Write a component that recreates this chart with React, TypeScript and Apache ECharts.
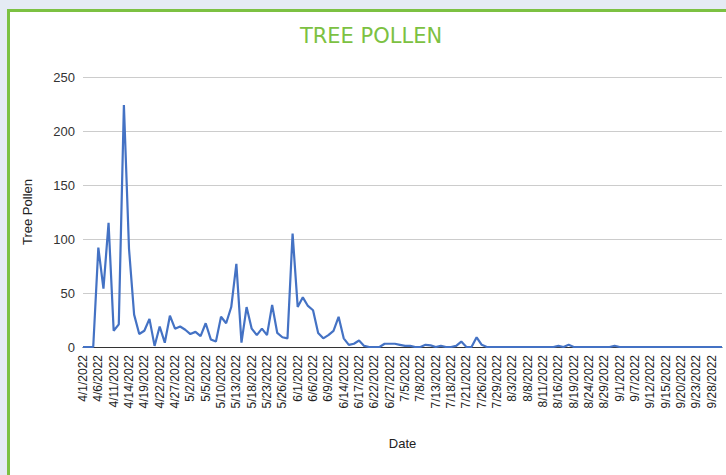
import React, { useEffect, useRef } from "react";
import * as echarts from "echarts";

const dates: string[] = [
  "4/1/2022", "4/4/2022", "4/5/2022", "4/6/2022", "4/7/2022", "4/8/2022", "4/11/2022", "4/12/2022", "4/13/2022", "4/14/2022",
  "4/15/2022", "4/18/2022", "4/19/2022", "4/20/2022", "4/21/2022", "4/22/2022", "4/25/2022", "4/26/2022", "4/27/2022", "4/28/2022",
  "4/29/2022", "5/2/2022", "5/3/2022", "5/4/2022", "5/5/2022", "5/6/2022", "5/9/2022", "5/10/2022", "5/11/2022", "5/12/2022",
  "5/13/2022", "5/16/2022", "5/17/2022", "5/18/2022", "5/19/2022", "5/20/2022", "5/23/2022", "5/24/2022", "5/25/2022", "5/26/2022",
  "5/27/2022", "5/31/2022", "6/1/2022", "6/2/2022", "6/3/2022", "6/6/2022", "6/7/2022", "6/8/2022", "6/9/2022", "6/10/2022",
  "6/13/2022", "6/14/2022", "6/15/2022", "6/16/2022", "6/17/2022", "6/20/2022", "6/21/2022", "6/22/2022", "6/23/2022", "6/24/2022",
  "6/27/2022", "6/28/2022", "6/29/2022", "7/5/2022", "7/6/2022", "7/7/2022", "7/8/2022", "7/11/2022", "7/12/2022", "7/13/2022",
  "7/14/2022", "7/15/2022", "7/18/2022", "7/19/2022", "7/20/2022", "7/21/2022", "7/22/2022", "7/25/2022", "7/26/2022", "7/27/2022",
  "7/28/2022", "7/29/2022", "8/1/2022", "8/2/2022", "8/3/2022", "8/4/2022", "8/5/2022", "8/8/2022", "8/9/2022", "8/10/2022",
  "8/11/2022", "8/12/2022", "8/15/2022", "8/16/2022", "8/17/2022", "8/18/2022", "8/19/2022", "8/22/2022", "8/23/2022", "8/24/2022",
  "8/25/2022", "8/26/2022", "8/29/2022", "8/30/2022", "8/31/2022", "9/1/2022", "9/2/2022", "9/6/2022", "9/7/2022", "9/8/2022",
  "9/9/2022", "9/12/2022", "9/13/2022", "9/14/2022", "9/15/2022", "9/16/2022", "9/19/2022", "9/20/2022", "9/21/2022", "9/22/2022",
  "9/23/2022", "9/26/2022", "9/27/2022", "9/28/2022", "9/29/2022", "9/30/2022",
];

const treePollen: number[] = [
  0, 0, 0, 92, 54, 115, 15, 21, 224, 91,
  30, 12, 15, 26, 1, 19, 4, 29, 17, 19,
  16, 12, 14, 10, 22, 7, 5, 28, 22, 37,
  77, 4, 37, 17, 11, 17, 11, 39, 13, 9,
  8, 105, 37, 46, 38, 34, 13, 8, 11, 15,
  28, 8, 2, 3, 6, 1, 0, 0, 0, 3,
  3, 3, 2, 1, 1, 0, 0, 2, 1.5, 0,
  1, 0, 0, 1, 5, 0, 0, 9, 2, 0,
  0, 0, 0, 0, 0, 0, 0, 0, 0, 0,
  0, 0, 0, 1, 0, 2, 0, 0, 0, 0,
  0, 0, 0, 0, 1, 0, 0, 0, 0, 0,
  0, 0, 0, 0, 0, 0, 0, 0, 0, 0,
  0, 0, 0, 0, 0, 0,
];

const yTicks = { min: 0, max: 250, interval: 50 };
const chartTitle = "TREE POLLEN";
const xName = "Date";
const yName = "Tree Pollen";

export default function App() {
  const ref = useRef<HTMLDivElement>(null);
  useEffect(() => {
    if (!ref.current) return;
    const chart = echarts.init(ref.current, null, { renderer: "svg" });
    chart.setOption({
      animation: false,
      backgroundColor: "#e5ebf4",
      graphic: [
        {
          type: "rect",
          z: -10,
          shape: { x: 8.5, y: 10.5, width: 740, height: 480 },
          style: { fill: "#ffffff", stroke: "#7cc142", lineWidth: 3 },
        },
        {
          type: "text",
          x: 371,
          y: 36,
          style: {
            text: chartTitle,
            fill: "#7cc142",
            font: '400 21px "DejaVu Sans", sans-serif',
            textAlign: "center",
            textVerticalAlign: "middle",
          },
        },
      ],
      grid: { left: 83, right: 4, top: 77, bottom: 128, containLabel: false },
      xAxis: {
        type: "category",
        data: dates,
        boundaryGap: false,
        name: xName,
        nameLocation: "middle",
        nameGap: 90,
        nameTextStyle: { fontFamily: "Liberation Sans, Arial, sans-serif", fontSize: 13, color: "#222" },
        axisLine: { lineStyle: { color: "#333", width: 1 } },
        axisTick: { show: false },
        axisLabel: {
          interval: 2,
          rotate: 90,
          margin: 8,
          fontFamily: "Liberation Sans, Arial, sans-serif",
          fontSize: 12,
          color: "#222",
        },
      },
      yAxis: {
        type: "value",
        min: yTicks.min,
        max: yTicks.max,
        interval: yTicks.interval,
        name: yName,
        nameLocation: "middle",
        nameRotate: 90,
        nameGap: 49,
        nameTextStyle: { fontFamily: "Liberation Sans, Arial, sans-serif", fontSize: 13, color: "#222" },
        axisLine: { show: false },
        axisTick: { show: false },
        axisLabel: {
          margin: 8,
          fontFamily: "Liberation Sans, Arial, sans-serif",
          fontSize: 13,
          color: "#333",
        },
        splitLine: { lineStyle: { color: "#cccccc", width: 1 } },
      },
      series: [
        {
          type: "line",
          data: treePollen,
          showSymbol: false,
          symbol: "none",
          lineStyle: { color: "#4472c4", width: 2.2 },
          itemStyle: { color: "#4472c4" },
        },
      ],
    });
    return () => chart.dispose();
  }, []);
  return (
    <div
      ref={ref}
      style={{ position: "fixed", left: 0, top: 0, width: 726, height: 475 }}
    />
  );
}
